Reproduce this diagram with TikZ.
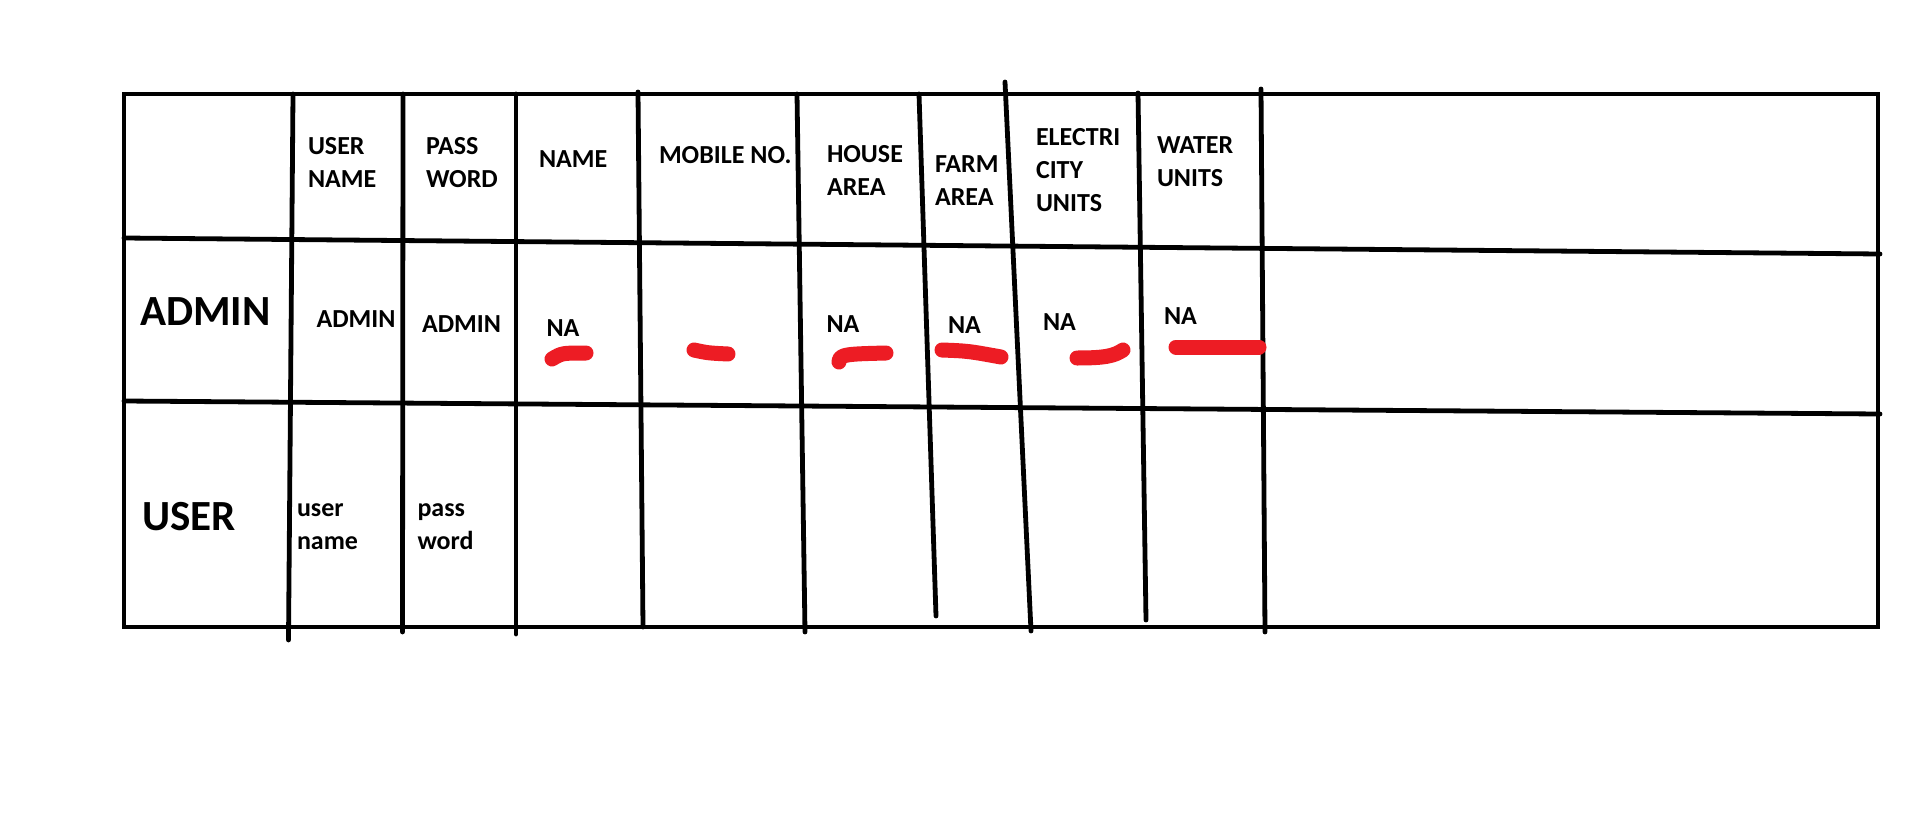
\documentclass[tikz,border=0pt]{standalone}
\usepackage{fontspec}
\setmainfont{Carlito}
\definecolor{ced1c24}{RGB}{237,28,36}
\definecolor{cffffff}{RGB}{255,255,255}
\begin{document}
\begin{tikzpicture}[y=1pt, x=1pt,yscale=-1, inner sep=0pt, outer sep=0pt,
  cell/.style={anchor=west,align=left,font=\bfseries\fontsize{26}{33}\selectfont},
  rowlabel/.style={anchor=west,font=\bfseries\fontsize{43}{50}\selectfont},
  rule/.style={draw=black,line width=4.8pt,line cap=round},
  blot/.style={draw=ced1c24,line width=15pt,line cap=round,line join=round}]
\path[use as bounding box,fill=cffffff] (0,0) rectangle (1909,814);

  % table frame and row rules
  \path[rule,line cap=butt] (124,94) rectangle (1878,627);
  \path[rule] (124,238) -- (1880,254);
  \path[rule] (124,401) -- (1880,414);

  % column rules, drawn by hand so not quite straight
  \path[rule] (293,94) -- (288.5,640);
  \path[rule] (403,94) -- (402.5,632);
  \path[rule] (516,94) -- (516,634);
  \path[rule] (638,92) -- (643,627);
  \path[rule] (797,94) -- (805,632);
  \path[rule] (919,94) -- (936,616);
  \path[rule] (1005,82) -- (1031,631);
  \path[rule] (1138,93) -- (1146,620);
  \path[rule] (1261,89) -- (1265,632);

  % header row
  \path (308,162.5) node[cell] (textUserName) {USER\\NAME};
  \path (426,162.5) node[cell] (textPassWord) {PASS\\WORD};
  \path (539,159) node[cell] (textName) {NAME};
  \path (659,155) node[cell] (textMobile) {MOBILE NO.};
  \path (827,170.5) node[cell] (textHouse) {HOUSE\\AREA};
  \path (935,181) node[cell] (textFarm) {FARM\\AREA};
  \path (1036,170.5) node[cell] (textElec) {ELECTRI\\CITY\\UNITS};
  \path (1157,162) node[cell] (textWater) {WATER\\UNITS};

  % admin row
  \path (140,312) node[rowlabel] (textAdmin) {ADMIN};
  \path (316.5,319) node[cell] (textAdminUser) {ADMIN};
  \path (422,324.5) node[cell] (textAdminPass) {ADMIN};
  \path (546.6,328) node[cell] (textNaName) {NA};
  \path (826.6,324) node[cell] (textNaHouse) {NA};
  \path (948,325.5) node[cell] (textNaFarm) {NA};
  \path (1043,322) node[cell] (textNaElec) {NA};
  \path (1164,316) node[cell] (textNaWater) {NA};

  % red marks under the admin entries
  \path[blot] (552,359) .. controls (562,353) .. (586,353);
  \path[blot] (694,350) .. controls (708,353) .. (728,354);
  \path[blot] (839,362) .. controls (839,354) and (848,354) .. (886,353);
  \path[blot] (942,350) .. controls (968,351) .. (1001,357);
  \path[blot] (1077,358) .. controls (1105,358) and (1114,356) .. (1123,350);
  \path[blot] (1176,347) -- (1259,347);

  % user row
  \path (142,516.5) node[rowlabel] (textUser) {USER};
  \path (297,526.5) node[cell] (textUserUser) {user\\name};
  \path (417.5,526.5) node[cell] (textUserPass) {pass\\word};

\end{tikzpicture}
\end{document}
